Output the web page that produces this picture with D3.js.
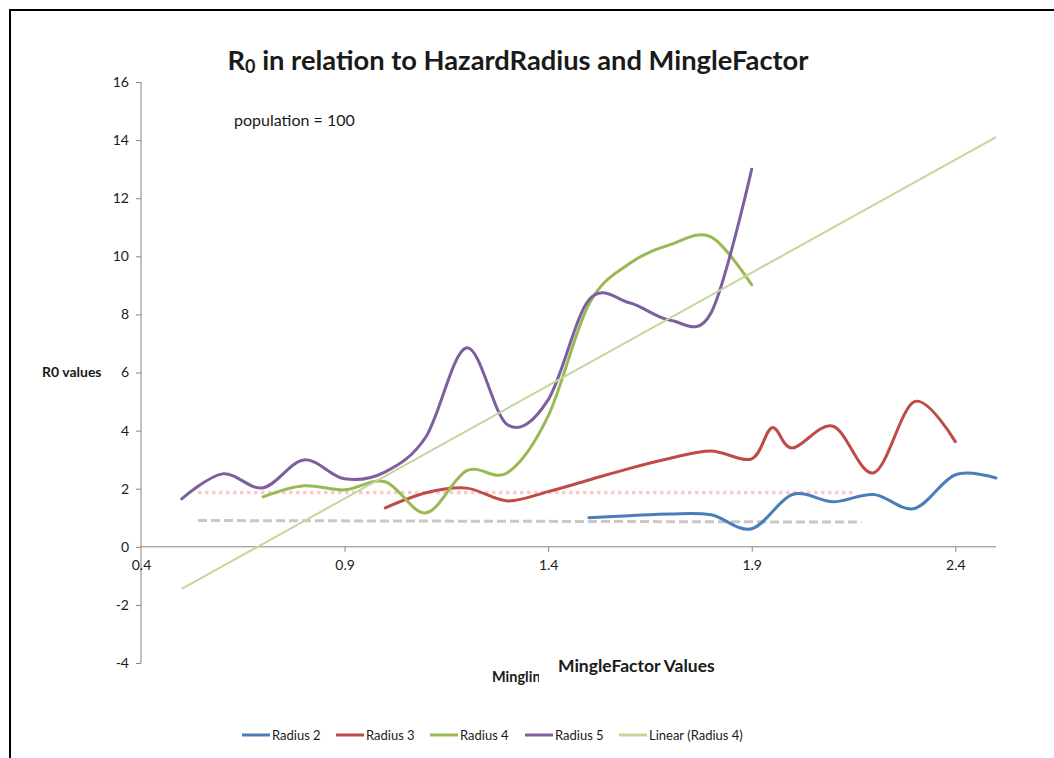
<!DOCTYPE html>
<html>
<head>
<meta charset="utf-8">
<script src="https://cdn.jsdelivr.net/npm/d3@7/dist/d3.min.js"></script>
<style>
  body { margin: 0; background: #fff; }
  svg { display: block; }
  text { font-family: Lato, "Open Sans", sans-serif; fill: #1a1a1a; }
</style>
</head>
<body>
<script>
// series
var xR2 = [1.5, 1.6, 1.7, 1.8, 1.9, 2.0, 2.1, 2.2, 2.3, 2.4, 2.5];
var yR2 = [1.0, 1.07, 1.13, 1.1, 0.62, 1.8, 1.55, 1.8, 1.32, 2.48, 2.37];

var xR3 = [1.0, 1.1, 1.2, 1.3, 1.4, 1.5, 1.6, 1.7, 1.8, 1.9, 1.95, 2.0, 2.1, 2.2, 2.3, 2.4];
var yR3 = [1.34, 1.86, 2.02, 1.58, 1.9, 2.3, 2.7, 3.05, 3.3, 3.03, 4.1, 3.4, 4.15, 2.55, 5.0, 3.62];

var xR4 = [0.7, 0.8, 0.9, 1.0, 1.1, 1.2, 1.3, 1.4, 1.5, 1.6, 1.7, 1.8, 1.9];
var yR4 = [1.72, 2.1, 1.96, 2.24, 1.17, 2.62, 2.55, 4.5, 8.35, 9.75, 10.4, 10.67, 9.02];

var xR5 = [0.5, 0.6, 0.7, 0.8, 0.9, 1.0, 1.1, 1.2, 1.3, 1.4, 1.5, 1.6, 1.7, 1.8, 1.9];
var yR5 = [1.65, 2.51, 2.03, 2.99, 2.34, 2.58, 3.79, 6.85, 4.2, 5.06, 8.5, 8.4, 7.8, 8.05, 13.0];

// trend lines
var xLin4 = [0.5, 2.5];
var yLin4 = [-1.45, 14.1];
var xPink = [0.54, 2.155];
var yPink = [1.87, 1.87];
var xGray = [0.54, 2.17];
var yGray = [0.905, 0.85];

var xTicks = [0.4, 0.9, 1.4, 1.9, 2.4];
var yTicks = [-4, -2, 0, 2, 4, 6, 8, 10, 12, 14, 16];

var legendNames = ['Radius 2', 'Radius 3', 'Radius 4', 'Radius 5', 'Linear (Radius 4)'];
var legendColors = ['#4a7ebb', '#be4b48', '#98b954', '#7d5fa0', '#c3d69b'];

var w = 1054, h = 758;

var svg = d3.select('body').append('svg')
  .attr('width', w)
  .attr('height', h);

svg.append('rect')
  .attr('x', 10).attr('y', 10)
  .attr('width', w + 20).attr('height', h + 20)
  .attr('fill', '#fff')
  .attr('stroke', '#000')
  .attr('stroke-width', 2);

var x = d3.scaleLinear().domain([0.4, 2.5]).range([141, 996]);
var y = d3.scaleLinear().domain([-4, 16]).range([663, 82]);

// axes
var yAxis = svg.append('g')
  .attr('transform', 'translate(141,0)')
  .call(d3.axisLeft(y).tickValues(yTicks).tickSize(5).tickPadding(7)
    .tickFormat(function(d) { return String(d); }));

var xAxis = svg.append('g')
  .attr('transform', 'translate(0,' + y(0) + ')')
  .call(d3.axisBottom(x).tickValues(xTicks).tickSize(5).tickPadding(8).tickFormat(d3.format('.1f')));

[yAxis, xAxis].forEach(function(a) {
  a.select('.domain').attr('stroke', '#868686');
  a.selectAll('.tick line').attr('stroke', '#868686');
  a.selectAll('.tick text')
    .style('font-family', 'Lato, sans-serif')
    .style('font-size', '14px')
    .attr('fill', '#1a1a1a');
});
yAxis.select('.domain').attr('d', 'M0,' + y(16) + 'V' + y(-4));
xAxis.select('.domain').attr('d', 'M' + x(0.4) + ',0H' + x(2.5));
xAxis.selectAll('.tick').filter(function(d) { return d === 0.4; }).select('line').remove();

function pts(xs, ys) {
  return xs.map(function(v, i) { return [v, ys[i]]; });
}

var smooth = d3.line()
  .x(function(d) { return x(d[0]); })
  .y(function(d) { return y(d[1]); })
  .curve(d3.curveCardinal.tension(0));

var straight = d3.line()
  .x(function(d) { return x(d[0]); })
  .y(function(d) { return y(d[1]); });

// dotted / dashed trend lines behind
svg.append('path')
  .attr('d', straight(pts(xPink, yPink)))
  .attr('fill', 'none')
  .attr('stroke', '#fbc9c8')
  .attr('stroke-width', 3.5)
  .attr('stroke-dasharray', '3.5,3.5');

svg.append('path')
  .attr('d', straight(pts(xGray, yGray)))
  .attr('fill', 'none')
  .attr('stroke', '#c8c8c8')
  .attr('stroke-width', 3)
  .attr('stroke-dasharray', '9,4');

var series = [pts(xR2, yR2), pts(xR3, yR3), pts(xR4, yR4), pts(xR5, yR5)];

svg.selectAll('path.series')
  .data(series)
  .enter().append('path')
  .attr('class', 'series')
  .attr('d', smooth)
  .attr('fill', 'none')
  .attr('stroke', function(d, i) { return legendColors[i]; })
  .attr('stroke-width', 3)
  .attr('stroke-linecap', 'round');

svg.append('path')
  .attr('d', straight(pts(xLin4, yLin4)))
  .attr('fill', 'none')
  .attr('stroke', legendColors[4])
  .attr('stroke-width', 2);

// title
var title = svg.append('text')
  .attr('x', 518).attr('y', 70)
  .attr('text-anchor', 'middle')
  .style('font-weight', 'bold')
  .style('font-size', '27.3px');
title.append('tspan').text('R');
title.append('tspan').attr('dy', 3).style('font-size', '18px').text('0');
title.append('tspan').attr('dy', -3).text(' in relation to HazardRadius and MingleFactor');

svg.append('text')
  .attr('x', 234).attr('y', 126)
  .style('font-size', '16px')
  .text('population = 100');

svg.append('text')
  .attr('x', 42).attr('y', 377)
  .style('font-size', '14px')
  .style('font-weight', 'bold')
  .text('R0 values');

svg.append('clipPath').attr('id', 'cut')
  .append('rect').attr('x', 490).attr('y', 660).attr('width', 49).attr('height', 30);

svg.append('text')
  .attr('x', 492).attr('y', 682)
  .attr('clip-path', 'url(#cut)')
  .style('font-size', '14.5px')
  .style('font-weight', 'bold')
  .text('Minglin');

svg.append('text')
  .attr('x', 558).attr('y', 672)
  .style('font-size', '17.5px')
  .style('font-weight', 'bold')
  .text('MingleFactor Values');

// legend
var legendX = [242, 336, 430, 525, 619];
var leg = svg.selectAll('g.legend')
  .data(legendNames)
  .enter().append('g')
  .attr('class', 'legend')
  .attr('transform', function(d, i) { return 'translate(' + legendX[i] + ',735)'; });

leg.append('line')
  .attr('x1', 0).attr('x2', 28)
  .attr('stroke', function(d, i) { return legendColors[i]; })
  .attr('stroke-width', 3);

leg.append('text')
  .attr('x', 30).attr('y', 5)
  .style('font-size', '13px')
  .text(function(d) { return d; });
</script>
</body>
</html>
